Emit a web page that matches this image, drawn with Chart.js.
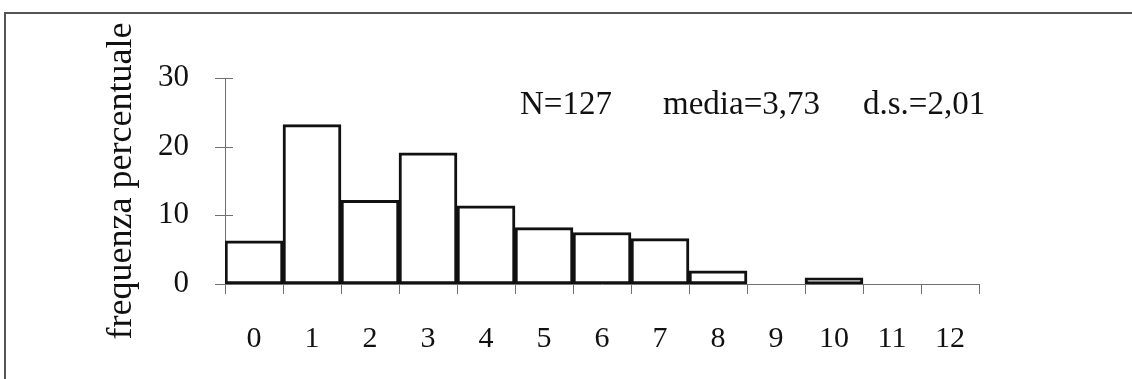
<!DOCTYPE html>
<html>
<head>
<meta charset="utf-8">
<script src="https://cdn.jsdelivr.net/npm/chart.js@4/dist/chart.umd.min.js"></script>
<style>
    html, body { margin: 0; padding: 0; background: #fff; }
    #wrap { position: relative; width: 1132px; height: 379px; }
</style>
</head>
<body>
<div id="wrap"><canvas id="histo"></canvas></div>
<script>
    // Istogramma - frequenza percentuale
    const categories = ['0', '1', '2', '3', '4', '5', '6', '7', '8', '9', '10', '11', '12'];
    const percentages = [6.3, 23.2, 12.2, 19.1, 11.4, 8.2, 7.5, 6.6, 1.9, 0, 0.9, 0, 0];
    const yTicks = [0, 10, 20, 30];
    const statsLabels = ['N=127', 'media=3,73', 'd.s.=2,01'];

    const serif = '"Liberation Serif", "Times New Roman", serif';
    const axisColor = '#707070';

    // frame, crossing tick marks and stats text
    const decorations = {
        id: 'decorations',
        beforeDraw(chart) {
            const ctx = chart.ctx;
            ctx.save();
            ctx.strokeStyle = '#555';
            ctx.lineWidth = 2;
            ctx.beginPath();
            ctx.moveTo(5, chart.height);
            ctx.lineTo(5, 13);
            ctx.lineTo(chart.width, 13);
            ctx.stroke();
            ctx.restore();
        },
        afterDraw(chart) {
            const ctx = chart.ctx;
            const x = chart.scales.x;
            const y = chart.scales.y;
            const area = chart.chartArea;
            ctx.save();
            ctx.strokeStyle = axisColor;
            ctx.lineWidth = 1;
            ctx.beginPath();
            yTicks.forEach(v => {
                const py = Math.round(y.getPixelForValue(v)) + 0.5;
                ctx.moveTo(area.left - 10, py);
                ctx.lineTo(area.left + 8, py);
            });
            for (let i = 0; i <= categories.length; i++) {
                const px = Math.round(x.getPixelForValue(i - 0.5)) + 0.5;
                ctx.moveTo(px, area.bottom);
                ctx.lineTo(px, area.bottom + 10);
            }
            ctx.stroke();

            ctx.fillStyle = '#111';
            ctx.font = '33px ' + serif;
            ctx.textBaseline = 'alphabetic';
            const xs = [520, 663, 863];
            statsLabels.forEach((t, i) => ctx.fillText(t, xs[i], 114));
            ctx.restore();
        }
    };

    new Chart(document.getElementById('histo'), {
        type: 'bar',
        data: {
            labels: categories,
            datasets: [{
                data: percentages,
                backgroundColor: '#ffffff',
                borderColor: '#111111',
                borderWidth: 3,
                borderSkipped: false,
                barPercentage: 1,
                categoryPercentage: 1
            }]
        },
        options: {
            responsive: true,
            maintainAspectRatio: false,
            animation: false,
            layout: {
                padding: { left: 0, top: 78, right: 153, bottom: 0 }
            },
            plugins: {
                legend: { display: false },
                tooltip: { enabled: false }
            },
            scales: {
                x: {
                    grid: { display: false },
                    border: { display: true, color: axisColor, width: 1 },
                    ticks: {
                        color: '#111',
                        font: { family: serif, size: 30 },
                        padding: 29,
                        maxRotation: 0,
                        autoSkip: false
                    },
                    afterFit(scale) { scale.height = 95; }
                },
                y: {
                    min: 0,
                    max: 30,
                    afterBuildTicks(scale) {
                        scale.ticks = yTicks.map(v => ({ value: v }));
                    },
                    grid: { display: false },
                    border: { display: true, color: axisColor, width: 1 },
                    ticks: {
                        color: '#111',
                        font: { family: serif, size: 31 },
                        padding: 28
                    },
                    title: {
                        display: true,
                        text: 'frequenza percentuale',
                        color: '#111',
                        font: { family: serif, size: 36 },
                        padding: { top: 100, bottom: 0 }
                    },
                    afterFit(scale) { scale.width = 225; }
                }
            }
        },
        plugins: [decorations]
    });
</script>
</body>
</html>
